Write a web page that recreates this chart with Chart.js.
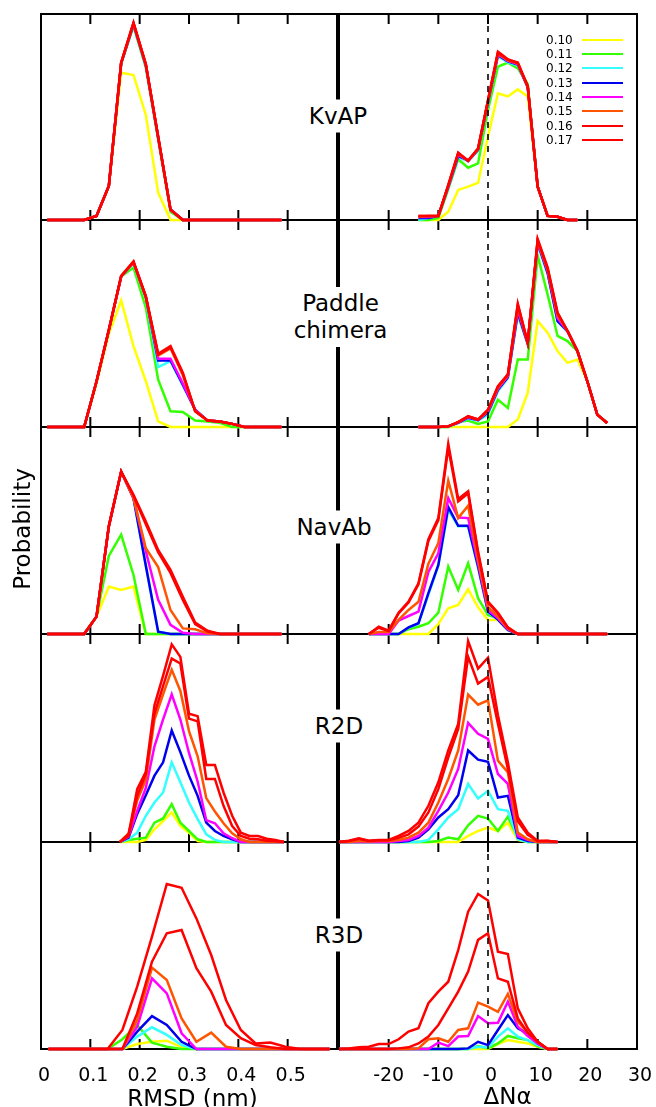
<!DOCTYPE html>
<html><head><meta charset="utf-8">
<script src="https://cdn.jsdelivr.net/npm/chart.js@4"></script>
<style>
html,body{margin:0;padding:0;background:#fff;}
body{width:656px;height:1107px;position:relative;overflow:hidden;font-family:"DejaVu Sans",sans-serif;color:#000;}
canvas{position:absolute;}
.txt{position:absolute;white-space:pre;text-align:center;transform:translate(-50%,-50%);z-index:50;}
.plbl{font-size:23px;line-height:27px;background:#fff;padding:3px 4px;}
.leg{position:absolute;font-size:12px;line-height:14px;z-index:50;}
.legline{position:absolute;height:2px;z-index:50;}
</style>
</head><body>
<script>
// ---------- data ----------
const seriesLabels = ['0.10','0.11','0.12','0.13','0.14','0.15','0.16','0.17'];
const seriesColors = ['#ffff00','#33ff00','#33ffff','#0000ee','#ff00ff','#ff5500','#ff0000','#ff0000'];
const panelNames = ['KvAP','Paddle\nchimera','NavAb','R2D','R3D'];

const rmsdTicks = [0.1,0.2,0.3,0.4,0.5];
const rmsdTickValues = [0,0.1,0.2,0.3,0.4,0.5];
const rmsdTickLabels = ['0','0.1','0.2','0.3','0.4','0.5'];
const dnTicks = [-20,-10,0,10,20];
const dnTickValues = [-20,-10,0,10,20,30];
const dnTickLabels = ['-20','-10','0','10','20','30'];

const rmsdBins025 = [0.0125,0.0375,0.0625,0.0875,0.1125,0.1375,0.1625,0.1875,0.2125,0.2375,0.2625,0.2875,0.3125,0.3375,0.3625,0.3875,0.4125,0.4375,0.4625,0.4875];
const r2dRmsdX = [0.16,0.1775,0.195,0.2125,0.23,0.2475,0.265,0.2825,0.3,0.3175,0.335,0.3525,0.37,0.3875,0.405,0.4225,0.44,0.4575,0.475,0.4925];
const r3dRmsdX = [0.015,0.045,0.075,0.105,0.135,0.165,0.195,0.225,0.255,0.285,0.315,0.345,0.375,0.405,0.435,0.465,0.495,0.525,0.555,0.585];

const kvapDnX = [-14,-12,-10,-8,-6,-4,-2,0,2,4,6,8,10,12,14,16,18];
const paddleDnX = [-14,-12,-10,-8,-6,-4,-2,0,2,4,6,8,10,12,14,16,18,20,22,24];
const navDnX = [-24,-22,-20,-18,-16,-14,-12,-10,-8,-6,-4,-2,0,2,4,6,8,10,12,14,16,18,20,22,24];
const rDnX = [-30,-28,-26,-24,-22,-20,-18,-16,-14,-12,-10,-8,-6,-4,-2,0,2,4,6,8,10,12,14];

const kvapRmsdY = [
 [0,0,0,0,0.02,0.165,0.715,0.704,0.51,0.133,0,0,0,0,0,0,0,0,0,0],
 [0,0,0,0,0.02,0.165,0.76,0.94,0.74,0.39,0.04,0,0,0,0,0,0,0,0,0],
 [0,0,0,0,0.02,0.165,0.76,0.945,0.745,0.395,0.05,0,0,0,0,0,0,0,0,0],
 [0,0,0,0,0.02,0.165,0.76,0.95,0.75,0.40,0.052,0,0,0,0,0,0,0,0,0],
 [0,0,0,0,0.02,0.165,0.762,0.952,0.752,0.40,0.05,0,0,0,0,0,0,0,0,0],
 [0,0,0,0,0.02,0.165,0.762,0.954,0.754,0.402,0.05,0,0,0,0,0,0,0,0,0],
 [0,0,0,0,0.02,0.165,0.763,0.956,0.756,0.404,0.05,0,0,0,0,0,0,0,0,0],
 [0,0,0,0,0.02,0.165,0.764,0.958,0.757,0.405,0.049,0,0,0,0,0,0,0,0,0]
];
const kvapDnY = [
 [0,0,0,0.04,0.146,0.162,0.18,0.405,0.615,0.6,0.634,0.6,0.162,0.02,0.016,0,0],
 [0,0,0.01,0.15,0.295,0.254,0.275,0.534,0.744,0.764,0.736,0.66,0.162,0.02,0.016,0,0],
 [0,0.01,0.02,0.155,0.305,0.285,0.335,0.565,0.795,0.765,0.75,0.645,0.162,0.02,0.016,0,0],
 [0.01,0.01,0.02,0.16,0.31,0.29,0.34,0.57,0.80,0.77,0.755,0.645,0.162,0.02,0.016,0,0],
 [0.015,0.015,0.02,0.163,0.318,0.286,0.342,0.575,0.805,0.772,0.757,0.646,0.162,0.02,0.016,0,0],
 [0.015,0.02,0.02,0.165,0.322,0.287,0.344,0.577,0.808,0.775,0.759,0.647,0.162,0.02,0.016,0,0],
 [0.02,0.02,0.02,0.168,0.325,0.287,0.346,0.58,0.812,0.778,0.762,0.648,0.162,0.02,0.016,0,0],
 [0.02,0.02,0.02,0.17,0.327,0.288,0.348,0.583,0.817,0.78,0.764,0.65,0.162,0.02,0.016,0,0]
];
const paddleRmsdY = [
 [0,0,0,0,0.21,0.45,0.612,0.391,0.221,0.027,0,0,0,0,0,0,0,0,0,0],
 [0,0,0,0,0.22,0.467,0.727,0.77,0.577,0.229,0.076,0.073,0.031,0.027,0.02,0,0,0,0,0],
 [0,0,0,0,0.22,0.467,0.727,0.79,0.62,0.289,0.318,0.2,0.084,0.031,0.027,0.015,0,0,0,0],
 [0,0,0,0,0.22,0.467,0.727,0.795,0.628,0.321,0.321,0.205,0.084,0.031,0.027,0.015,0,0,0,0],
 [0,0,0,0,0.22,0.467,0.727,0.795,0.628,0.33,0.33,0.21,0.082,0.031,0.027,0.015,0,0,0,0],
 [0,0,0,0,0.22,0.467,0.727,0.795,0.628,0.345,0.38,0.25,0.078,0.031,0.027,0.015,0,0,0,0],
 [0,0,0,0,0.22,0.468,0.728,0.798,0.63,0.35,0.385,0.258,0.076,0.031,0.027,0.015,0,0,0,0],
 [0,0,0,0,0.221,0.47,0.73,0.80,0.633,0.354,0.391,0.262,0.076,0.031,0.027,0.015,0,0,0,0]
];
const paddleDnY = [
 [0,0,0,0,0,0,0,0,0,0,0.036,0.165,0.512,0.456,0.367,0.31,0.326,0.221,0.06,0.019],
 [0,0,0,0,0.024,0.031,0.015,0.027,0.132,0.092,0.326,0.326,0.827,0.641,0.44,0.415,0.367,0.221,0.06,0.019],
 [0,0,0,0,0.02,0.04,0.03,0.06,0.173,0.235,0.54,0.40,0.88,0.74,0.51,0.46,0.367,0.221,0.06,0.019],
 [0,0,0,0.003,0.02,0.045,0.033,0.07,0.18,0.24,0.553,0.402,0.89,0.745,0.512,0.464,0.367,0.221,0.06,0.019],
 [0,0,0,0.003,0.022,0.048,0.034,0.075,0.185,0.245,0.565,0.405,0.892,0.755,0.525,0.464,0.367,0.221,0.06,0.019],
 [0,0,0,0.003,0.024,0.05,0.035,0.08,0.19,0.25,0.58,0.405,0.898,0.76,0.54,0.464,0.367,0.221,0.06,0.019],
 [0,0,0,0.003,0.024,0.05,0.036,0.082,0.195,0.252,0.59,0.406,0.903,0.765,0.55,0.464,0.367,0.221,0.06,0.019],
 [0,0,0,0.003,0.024,0.052,0.036,0.084,0.197,0.254,0.596,0.407,0.908,0.771,0.553,0.464,0.367,0.221,0.06,0.019]
];
const navRmsdY = [
 [0,0,0,0,0.084,0.229,0.213,0.229,0,0,0,0,0,0,0,0,0,0,0,0],
 [0,0,0,0,0.084,0.377,0.48,0.285,0,0,0,0,0,0,0,0,0,0,0,0],
 [0,0,0,0,0.084,0.52,0.785,0.656,0.33,0.011,0,0,0,0,0,0,0,0,0,0],
 [0,0,0,0,0.084,0.52,0.785,0.656,0.33,0.011,0,0,0,0,0,0,0,0,0,0],
 [0,0,0,0,0.084,0.52,0.785,0.656,0.40,0.165,0.044,0.006,0,0,0,0,0,0,0,0],
 [0,0,0,0,0.084,0.52,0.785,0.656,0.414,0.323,0.116,0.027,0.023,0.003,0,0,0,0,0,0],
 [0,0,0,0,0.084,0.52,0.783,0.668,0.53,0.395,0.295,0.165,0.048,0.012,0,0,0,0,0,0],
 [0,0,0,0,0.084,0.523,0.785,0.673,0.544,0.406,0.31,0.18,0.055,0.016,0,0,0,0,0,0]
];
const navDnY = [
 [0,0,0,0,0,0,0,0.048,0.124,0.14,0.216,0.129,0.068,0.068,0.02,0,0,0,0,0,0,0,0,0,0],
 [0,0,0,0,0.023,0.035,0.052,0.103,0.326,0.213,0.342,0.173,0.092,0.076,0.027,0,0,0,0,0,0,0,0,0,0],
 [0,0,0,0,0.03,0.05,0.19,0.33,0.60,0.52,0.52,0.32,0.105,0.07,0.02,0,0,0,0,0,0,0,0,0,0],
 [0,0,0,0,0.032,0.052,0.197,0.334,0.613,0.523,0.523,0.326,0.108,0.07,0.02,0,0,0,0,0,0,0,0,0,0],
 [0,0,0,0.065,0.087,0.108,0.30,0.39,0.656,0.563,0.56,0.342,0.116,0.076,0.023,0,0,0,0,0,0,0,0,0,0],
 [0,0.01,0.01,0.068,0.116,0.156,0.34,0.44,0.74,0.56,0.62,0.358,0.13,0.084,0.027,0,0,0,0,0,0,0,0,0,0],
 [0,0.03,0.015,0.1,0.152,0.24,0.45,0.55,0.90,0.64,0.68,0.39,0.152,0.1,0.03,0,0,0,0,0,0,0,0,0,0],
 [0,0.035,0.016,0.103,0.156,0.245,0.458,0.56,0.919,0.652,0.689,0.398,0.156,0.103,0.032,0,0,0,0,0,0,0,0,0,0]
];
const r2dRmsdY = [
 [0,0,0,0.01,0.061,0.101,0.142,0.077,0.045,0.005,0,0,0,0,0,0,0,0,0,0],
 [0,0.01,0.016,0.021,0.093,0.113,0.182,0.093,0.053,0.013,0,0,0,0,0,0,0,0,0,0],
 [0,0.013,0.045,0.126,0.19,0.238,0.383,0.287,0.19,0.11,0.037,0.01,0,0,0,0,0,0,0,0],
 [0,0.021,0.135,0.225,0.319,0.383,0.536,0.432,0.319,0.222,0.093,0.053,0.029,0.013,0,0,0,0,0,0],
 [0,0.026,0.15,0.26,0.46,0.589,0.71,0.589,0.428,0.291,0.105,0.09,0.042,0.018,0,0,0,0,0,0],
 [0,0.042,0.2,0.30,0.589,0.71,0.828,0.726,0.533,0.412,0.211,0.147,0.09,0.042,0.013,0,0,0,0,0],
 [0,0.029,0.222,0.327,0.617,0.75,0.882,0.858,0.593,0.58,0.303,0.303,0.174,0.077,0.029,0.016,0.013,0.006,0.003,0],
 [0,0.037,0.254,0.338,0.657,0.80,0.95,0.89,0.617,0.605,0.37,0.37,0.238,0.126,0.045,0.029,0.029,0.016,0.01,0]
];
const r2dDnY = [
 [0,0,0,0,0,0,0,0,0,0,0,0,0,0.029,0.053,0.069,0.053,0.093,0.01,0,0,0,0],
 [0,0,0,0,0,0,0,0,0,0,0.005,0.021,0.013,0.08,0.126,0.113,0.053,0.122,0.021,0,0,0,0],
 [0,0,0,0,0,0,0,0,0,0.01,0.061,0.118,0.158,0.279,0.209,0.246,0.158,0.15,0.013,0,0,0,0],
 [0,0,0,0,0,0,0,0.005,0.021,0.061,0.118,0.158,0.225,0.44,0.396,0.386,0.214,0.222,0.021,0.005,0,0,0],
 [0,0,0,0,0,0,0.005,0.01,0.029,0.069,0.15,0.238,0.351,0.573,0.52,0.496,0.327,0.279,0.029,0.01,0,0,0],
 [0,0,0.005,0.003,0.005,0.005,0.01,0.021,0.045,0.093,0.19,0.303,0.44,0.709,0.66,0.681,0.391,0.335,0.045,0.013,0,0,0],
 [0,0.005,0.015,0.005,0.008,0.008,0.02,0.037,0.074,0.142,0.254,0.407,0.544,0.89,0.762,0.794,0.568,0.351,0.1,0.035,0.005,0.005,0],
 [0,0.006,0.018,0.006,0.01,0.01,0.029,0.053,0.093,0.174,0.287,0.44,0.568,0.966,0.834,0.886,0.609,0.383,0.118,0.045,0.005,0.006,0]
];
const r3dRmsdY = [
 [0,0,0,0,0,0,0.024,0.035,0.04,0.008,0,0,0,0,0,0,0,0,0,0],
 [0,0,0,0,0,0.047,0.116,0.031,0.011,0,0,0,0,0,0,0,0,0,0,0],
 [0,0,0,0,0,0,0.06,0.105,0.068,0.019,0,0,0,0,0,0,0,0,0,0],
 [0,0,0,0,0,0,0.084,0.159,0.116,0.035,0,0,0,0,0,0,0,0,0,0],
 [0,0,0,0,0,0,0.108,0.341,0.269,0.076,0,0,0,0,0,0,0,0,0,0],
 [0,0,0,0,0,0,0.14,0.393,0.333,0.148,0.035,0.079,0.011,0,0,0,0,0,0,0],
 [0,0,0,0,0,0,0.172,0.422,0.559,0.575,0.39,0.277,0.116,0.052,0.019,0.008,0,0,0,0],
 [0,0,0,0,0,0.092,0.301,0.543,0.797,0.779,0.631,0.454,0.237,0.092,0.027,0.031,0.011,0,0,0]
];
const r3dDnY = [
 [0,0,0,0,0,0,0,0,0,0,0,0,0,0,0,0,0.024,0.043,0.035,0.027,0.011,0,0],
 [0,0,0,0,0,0,0,0,0,0,0,0,0,0,0.014,0.003,0.027,0.063,0.052,0.043,0.014,0,0],
 [0,0,0,0,0,0,0,0,0,0,0,0,0,0,0.011,0.008,0.06,0.10,0.06,0.043,0.019,0,0],
 [0,0,0,0,0,0,0,0,0,0,0,0,0,0.003,0.035,0.019,0.092,0.164,0.10,0.076,0.027,0,0],
 [0,0,0,0,0,0,0,0,0,0,0.031,0.014,0.06,0.063,0.159,0.124,0.127,0.229,0.108,0.063,0.027,0,0],
 [0,0,0,0,0,0,0,0,0.003,0.047,0.052,0.035,0.092,0.10,0.224,0.205,0.18,0.266,0.132,0.079,0.035,0,0],
 [0,0,0,0,0,0,0.003,0.008,0.027,0.06,0.116,0.196,0.277,0.374,0.527,0.559,0.341,0.325,0.148,0.079,0.035,0,0],
 [0,0.003,0.008,0.011,0.024,0.024,0.047,0.084,0.10,0.221,0.277,0.325,0.478,0.663,0.749,0.717,0.47,0.459,0.196,0.10,0.035,0,0]
];

// ---------- layout ----------
const ROW_EDGES = [14,220,427,634,842,1049];
const COLS = [
  {l:41, r:337, min:0, max:0.6, ticks:rmsdTicks, tv:rmsdTickValues, tl:rmsdTickLabels, zero:false},
  {l:339, r:637, min:-30, max:30, ticks:dnTicks, tv:dnTickValues, tl:dnTickLabels, zero:true}
];
const panelData = [
  [[rmsdBins025,kvapRmsdY],[kvapDnX,kvapDnY]],
  [[rmsdBins025,paddleRmsdY],[paddleDnX,paddleDnY]],
  [[rmsdBins025,navRmsdY],[navDnX,navDnY]],
  [[r2dRmsdX,r2dRmsdY],[rDnX,r2dDnY]],
  [[r3dRmsdX,r3dRmsdY],[rDnX,r3dDnY]]
];

function framePlugin(cfg){
  return {
    id:'frame',
    beforeDatasetsDraw(chart){
      const ctx=chart.ctx, a=chart.chartArea, x=chart.scales.x;
      ctx.save();
      ctx.strokeStyle='#000'; ctx.lineWidth=2; ctx.setLineDash([]);
      ctx.strokeRect(a.left,a.top,a.right-a.left,a.bottom-a.top);
      ctx.beginPath();
      cfg.ticks.forEach(v=>{const p=x.getPixelForValue(v);
        ctx.moveTo(p,a.top); ctx.lineTo(p,a.top+10);
        ctx.moveTo(p,a.bottom); ctx.lineTo(p,a.bottom-10);});
      ctx.stroke();
      if(cfg.labels){
        ctx.fillStyle='#000'; ctx.font='19px "DejaVu Sans"';
        ctx.textAlign='center'; ctx.textBaseline='alphabetic';
        cfg.labels.forEach((t,i)=>{const v=cfg.labelValues[i];
          ctx.fillText(t, x.getPixelForValue(v)+(v<0?0:3), a.bottom+32);});
      }
      ctx.restore();
    },
    afterDatasetsDraw(chart){
      if(!cfg.zero) return;
      const ctx=chart.ctx, a=chart.chartArea, p=chart.scales.x.getPixelForValue(0);
      ctx.save(); ctx.strokeStyle='#000'; ctx.lineWidth=1.6; ctx.setLineDash([6,6]);
      ctx.beginPath(); ctx.moveTo(p,a.top); ctx.lineTo(p,a.bottom); ctx.stroke();
      ctx.restore();
    }
  };
}

const P=5;
for(let row=0; row<5; row++){
  for(let c=0;c<2;c++){
    const col=COLS[c];
    const [xs, ys] = panelData[row][c];
    const top=ROW_EDGES[row], bottom=ROW_EDGES[row+1];
    const last = row===4;
    const pad={left:P, right:(last&&c===1)?18:P, top:P, bottom:last?45:P};
    const cv=document.createElement('canvas');
    cv.width=(col.r-col.l)+pad.left+pad.right;
    cv.height=(bottom-top)+pad.top+pad.bottom;
    cv.style.left=(col.l-pad.left)+'px';
    cv.style.top=(top-pad.top)+'px';
    cv.style.zIndex=String(20-row*2-c);
    document.body.appendChild(cv);
    new Chart(cv,{
      type:'line',
      data:{datasets: ys.map((arr,i)=>({
        label:seriesLabels[i],
        data: xs.map((xv,j)=>({x:xv, y:arr[j]})),
        borderColor:seriesColors[i], backgroundColor:seriesColors[i],
        borderWidth:2.5, pointRadius:0, fill:false, tension:0,
        order:7-i, clip:false
      }))},
      options:{
        responsive:false, animation:false, devicePixelRatio:1, events:[],
        layout:{padding:pad},
        plugins:{legend:{display:false}, tooltip:{enabled:false}},
        scales:{
          x:{type:'linear', min:col.min, max:col.max, display:false},
          y:{type:'linear', min:0, max:1, display:false}
        }
      },
      plugins:[framePlugin({ticks:col.ticks, zero:col.zero,
        labels: last?col.tl:null, labelValues: col.tv})]
    });
  }
}

// panel names
const nameCenters=[[338,116.3],[340.5,317],[334,527.2],[339,726.2],[339,935]];
panelNames.forEach((n,i)=>{
  const d=document.createElement('div'); d.className='txt plbl'; d.textContent=n;
  d.style.left=nameCenters[i][0]+'px'; d.style.top=nameCenters[i][1]+'px';
  document.body.appendChild(d);
});

// legend
seriesLabels.forEach((t,i)=>{
  const cy=39.8+14.33*i;
  const d=document.createElement('div'); d.className='leg'; d.textContent=t;
  d.style.left='546px'; d.style.top=(cy-7)+'px';
  document.body.appendChild(d);
  const l=document.createElement('div'); l.className='legline';
  l.style.left='582px'; l.style.width='41px'; l.style.top=(cy-1)+'px';
  l.style.background=seriesColors[i];
  document.body.appendChild(l);
});

// axis titles
function addText(t,x,y,size,rot){
  const d=document.createElement('div'); d.className='txt'; d.textContent=t;
  d.style.fontSize=size+'px'; d.style.lineHeight='27px';
  d.style.left=x+'px'; d.style.top=y+'px';
  if(rot) d.style.transform='translate(-50%,-50%) rotate(-90deg)';
  document.body.appendChild(d);
}
addText('RMSD (nm)',192.5,1097.7,23,false);
addText('ΔNα',507.5,1096.3,23,false);
addText('Probability',22.2,528.7,23,true);
</script>
</body></html>
